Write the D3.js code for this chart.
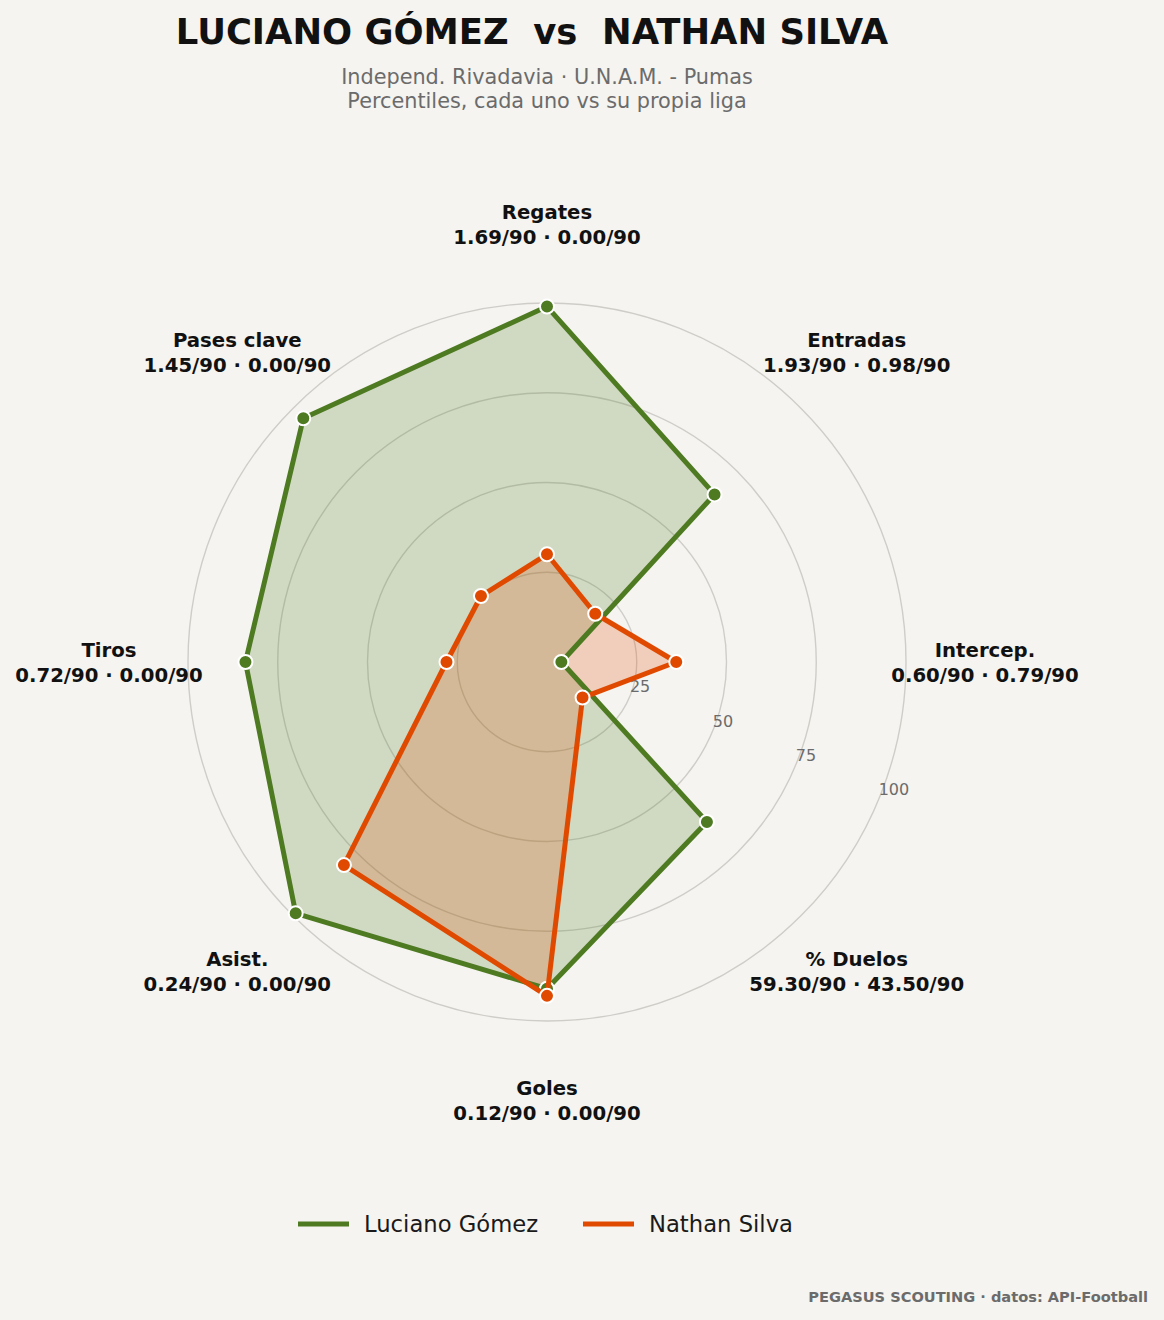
<!DOCTYPE html>
<html>
<head>
<meta charset="utf-8">
<script src="https://cdn.jsdelivr.net/npm/d3@7"></script>
<style>
  body { margin: 0; background: #f5f4f0; }
  svg { display: block; font-family: "DejaVu Sans", sans-serif; }
</style>
</head>
<body>
<div id="chart"></div>
<script>
// radar axes, clockwise from the top
const categories = ['Regates', 'Entradas', 'Intercep.', '% Duelos', 'Goles', 'Asist.', 'Tiros', 'Pases clave'];
const perNinety = [
  '1.69/90 · 0.00/90',
  '1.93/90 · 0.98/90',
  '0.60/90 · 0.79/90',
  '59.30/90 · 43.50/90',
  '0.12/90 · 0.00/90',
  '0.24/90 · 0.00/90',
  '0.72/90 · 0.00/90',
  '1.45/90 · 0.00/90'
];
const players = ['Luciano Gómez', 'Nathan Silva'];
const gomezValues = [99, 66, 4, 63, 91, 99, 84, 96];
const silvaValues = [30, 19, 36, 14, 93, 80, 28, 26];
const ringTicks = [25, 50, 75, 100];

const colors = ['#4e7a22', '#e04a00'];
const fills = ['rgba(78,122,34,0.22)', 'rgba(224,74,0,0.22)'];

const width = 1164, height = 1320;
const cx = 547, cy = 662, rMax = 359;

const svg = d3.select('#chart').append('svg')
    .attr('width', width)
    .attr('height', height);

svg.append('rect').attr('width', width).attr('height', height).attr('fill', '#f5f4f0');

// Title block
svg.append('text')
    .attr('x', 532).attr('y', 44)
    .attr('text-anchor', 'middle')
    .attr('font-size', 35.4).attr('font-weight', 'bold').attr('fill', '#111')
    .attr('xml:space', 'preserve')
    .text('LUCIANO GÓMEZ  vs  NATHAN SILVA');

const sub = svg.append('text')
    .attr('text-anchor', 'middle')
    .attr('font-size', 20.8).attr('fill', '#6b6b6b');
sub.append('tspan').attr('x', 547).attr('y', 84).text('Independ. Rivadavia · U.N.A.M. - Pumas');
sub.append('tspan').attr('x', 547).attr('y', 108).text('Percentiles, cada uno vs su propia liga');

// Scales
const angle = d3.scaleBand().domain(categories).range([0, 2 * Math.PI]).paddingInner(0).align(0);
const r = d3.scaleLinear().domain([0, 100]).range([0, rMax]);

const g = svg.append('g').attr('transform', `translate(${cx},${cy})`);

// Rings
g.selectAll('.ring')
    .data(ringTicks)
    .enter().append('circle')
    .attr('class', 'ring')
    .attr('r', d => r(d))
    .attr('fill', 'none')
    .attr('stroke', '#cfcdc8')
    .attr('stroke-width', 1.4);

// Polygons
const radial = d3.lineRadial()
    .angle((d, i) => angle(categories[i]))
    .radius(d => r(d))
    .curve(d3.curveLinearClosed);

const series = [gomezValues, silvaValues];

g.selectAll('.area')
    .data(series)
    .enter().append('path')
    .attr('class', 'area')
    .attr('d', radial)
    .attr('fill', (d, i) => fills[i])
    .attr('stroke', 'none');

// Ring labels
const labAngle = angle(categories[2]) + Math.PI / 8;
g.selectAll('.rlabel')
    .data(ringTicks)
    .enter().append('text')
    .attr('class', 'rlabel')
    .attr('x', d => r(d) * Math.sin(labAngle))
    .attr('y', d => -r(d) * Math.cos(labAngle) - 4)
    .attr('font-size', 16)
    .attr('fill', '#6b6b6b')
    .text(d => d);

series.forEach((vals, s) => {
    g.append('path')
        .attr('d', radial(vals))
        .attr('fill', 'none')
        .attr('stroke', colors[s])
        .attr('stroke-width', 5)
        .attr('stroke-linejoin', 'round');

    g.selectAll('.pt' + s)
        .data(vals)
        .enter().append('circle')
        .attr('class', 'pt' + s)
        .attr('cx', (d, i) => r(d) * Math.sin(angle(categories[i])))
        .attr('cy', (d, i) => -r(d) * Math.cos(angle(categories[i])))
        .attr('r', 7)
        .attr('fill', colors[s])
        .attr('stroke', '#fff')
        .attr('stroke-width', 2);
});

// Category labels
const labR = 438;
const labels = g.selectAll('.cat')
    .data(categories)
    .enter().append('text')
    .attr('class', 'cat')
    .attr('text-anchor', 'middle')
    .attr('font-size', 19.7)
    .attr('font-weight', 'bold')
    .attr('fill', '#111');

labels.append('tspan')
    .attr('x', d => labR * Math.sin(angle(d)))
    .attr('y', d => -labR * Math.cos(angle(d)) - 5.5)
    .text(d => d);
labels.append('tspan')
    .attr('x', d => labR * Math.sin(angle(d)))
    .attr('y', d => -labR * Math.cos(angle(d)) + 19.5)
    .text((d, i) => perNinety[i]);

// Legend
const legendX = [298, 583];
const legend = svg.selectAll('.leg')
    .data(players)
    .enter().append('g')
    .attr('class', 'leg')
    .attr('transform', (d, i) => `translate(${legendX[i]},1224)`);
legend.append('line')
    .attr('x1', 0).attr('x2', 51)
    .attr('stroke', (d, i) => colors[i])
    .attr('stroke-width', 5);
legend.append('text')
    .attr('x', 66).attr('y', 8)
    .attr('font-size', 22.7).attr('fill', '#1a1a1a')
    .text(d => d);

// Footer
svg.append('text')
    .attr('x', 1148).attr('y', 1302)
    .attr('text-anchor', 'end')
    .attr('font-size', 14.6).attr('font-weight', 'bold').attr('fill', '#6b6b6b')
    .text('PEGASUS SCOUTING · datos: API-Football');
</script>
</body>
</html>
